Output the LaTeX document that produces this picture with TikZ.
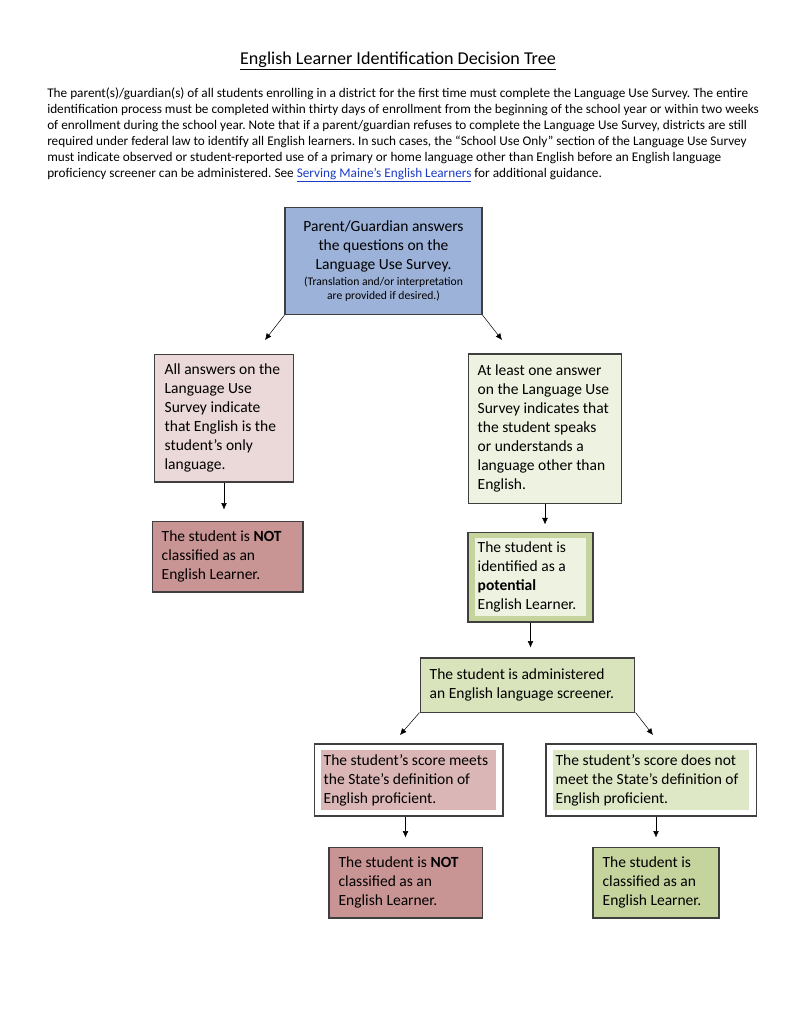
\documentclass[tikz,border=0pt]{standalone}
\usepackage{fontspec}
\setmainfont{Carlito}
\usetikzlibrary{arrows.meta,calc,positioning}

\definecolor{surveyblue}{HTML}{9DB2D8}
\definecolor{palerose}{HTML}{EBD8D8}
\definecolor{dustyrose}{HTML}{C99494}
\definecolor{softrose}{HTML}{DBB6B6}
\definecolor{palegreen}{HTML}{EEF2E0}
\definecolor{sagegreen}{HTML}{C5D49C}
\definecolor{lightsage}{HTML}{D9E4BD}
\definecolor{mistgreen}{HTML}{DEE7C6}
\definecolor{boxline}{HTML}{3F3F3F}
\definecolor{linkblue}{HTML}{1A3CC8}

\newcommand{\smallnote}{\fontsize{9}{10.8}\selectfont}
\frenchspacing

\begin{document}
\begin{tikzpicture}[
      x=0.7737pt, y=-0.7737pt,
      box/.style={
          rectangle,
          draw=boxline,
          line width=0.8pt,
          inner xsep=7.5pt,
          align=flush left,
          font=\fontsize{12}{14.6}\selectfont
        },
      insetfill/.style={
          path picture={\fill[#1] ($(path picture bounding box.north west)+(7,6)$)
            rectangle ($(path picture bounding box.south east)+(-7,-6)$);}
        },
      >={Latex[length=5pt,width=4.5pt]}
    ]
    \fill[white] (0,0) rectangle (791,1024);
    \useasboundingbox (0,0) rectangle (791,1024);

    % Heading and introduction
    \node[font=\fontsize{14}{17}\selectfont] at (398,61) (title)
    {\underline{English Learner Identification Decision Tree}};
    \node[anchor=north west, inner sep=0pt, align=flush left, font=\fontsize{10.25}{12.3}\selectfont] at (47,88) (intro)
    {The parent(s)/guardian(s) of all students enrolling in a district for the first time must complete the Language Use Survey. The entire\\
      identification process must be completed within thirty days of enrollment from the beginning of the school year or within two weeks\\
      of enrollment during the school year. Note that if a parent/guardian refuses to complete the Language Use Survey, districts are still\\
      required under federal law to identify all English learners. In such cases, the “School Use Only” section of the Language Use Survey\\
      must indicate observed or student-reported use of a primary or home language other than English before an English language\\
      proficiency screener can be administered. See \textcolor{linkblue}{\underline{Serving Maine’s English Learners}} for additional guidance.};

    % Explicit positions
    \node[box, fill=surveyblue, align=flush center, text width=137.4pt, minimum height=82.8pt] at (383.5,261) (survey)
    {Parent/Guardian answers\\the questions on the\\Language Use Survey.\\[-2.4pt]
      {\smallnote (Translation and/or interpretation}\\[-4pt]{\smallnote are provided if desired.)}};

    \node[box, fill=palerose, text width=91.8pt, minimum height=99pt] at (224,418) (onlyeng)
    {All answers on the\\Language Use\\Survey indicate\\that English is the\\student’s only\\language.};
    \node[box, fill=palegreen, text width=104.1pt, minimum height=115.3pt] at (545,428.5) (otherlang)
    {At least one answer\\on the Language Use\\Survey indicates that\\the student speaks\\or understands a\\language other than\\English.};

    \node[box, fill=dustyrose, text width=101.8pt, minimum height=54.9pt] at (227.5,556.5) (notelA)
    {The student is \textbf{NOT}\\classified as an\\English Learner.};
    \node[box, fill=sagegreen, insetfill=palegreen, text width=81.7pt, minimum height=69.6pt] at (530.5,577) (potential)
    {The student is\\identified as a\\\textbf{potential}\\English Learner.};

    \node[box, fill=lightsage, text width=151.3pt, minimum height=41.8pt] at (527.5,685) (screener)
    {The student is administered\\an English language screener.};

    \node[box, fill=white, insetfill=softrose, text width=131.2pt, minimum height=55.7pt] at (408.5,780) (meets)
    {The student’s score meets\\the State’s definition of\\English proficient.};
    \node[box, fill=white, insetfill=mistgreen, text width=147.5pt, minimum height=55.7pt] at (651,780) (notmeets)
    {The student’s score does not\\meet the State’s definition of\\English proficient.};

    \node[box, fill=dustyrose, text width=103.4pt, minimum height=54.9pt] at (405.5,882.5) (notelB)
    {The student is \textbf{NOT}\\classified as an\\English Learner.};
    \node[box, fill=sagegreen, text width=82.5pt, minimum height=54.9pt] at (656,882.5) (isel)
    {The student is\\classified as an\\English Learner.};

    % Arrow ends in the open space
    \coordinate (surveyL) at (265,340);
    \coordinate (surveyR) at (502,340);
    \coordinate (screenL) at (400,735);
    \coordinate (screenR) at (653,735);

    \draw[->] (survey.south west) -- (surveyL);
    \draw[->] (survey.south east) -- (surveyR);
    \draw[->, shorten >=8.5pt] (onlyeng.south) -- (onlyeng.south |- notelA.north);
    \draw[->, shorten >=5.5pt] (otherlang.south) -- (otherlang.south |- potential.north);
    \draw[->, shorten >=7.7pt] (potential.south) -- (potential.south |- screener.north);
    \draw[->] (screener.south west) -- (screenL);
    \draw[->] (screener.south east) -- (screenR);
    \draw[->, shorten >=7pt] (notelB.north |- meets.south) -- (notelB.north);
    \draw[->, shorten >=7pt] (isel.north |- notmeets.south) -- (isel.north);
  \end{tikzpicture}
\end{document}
